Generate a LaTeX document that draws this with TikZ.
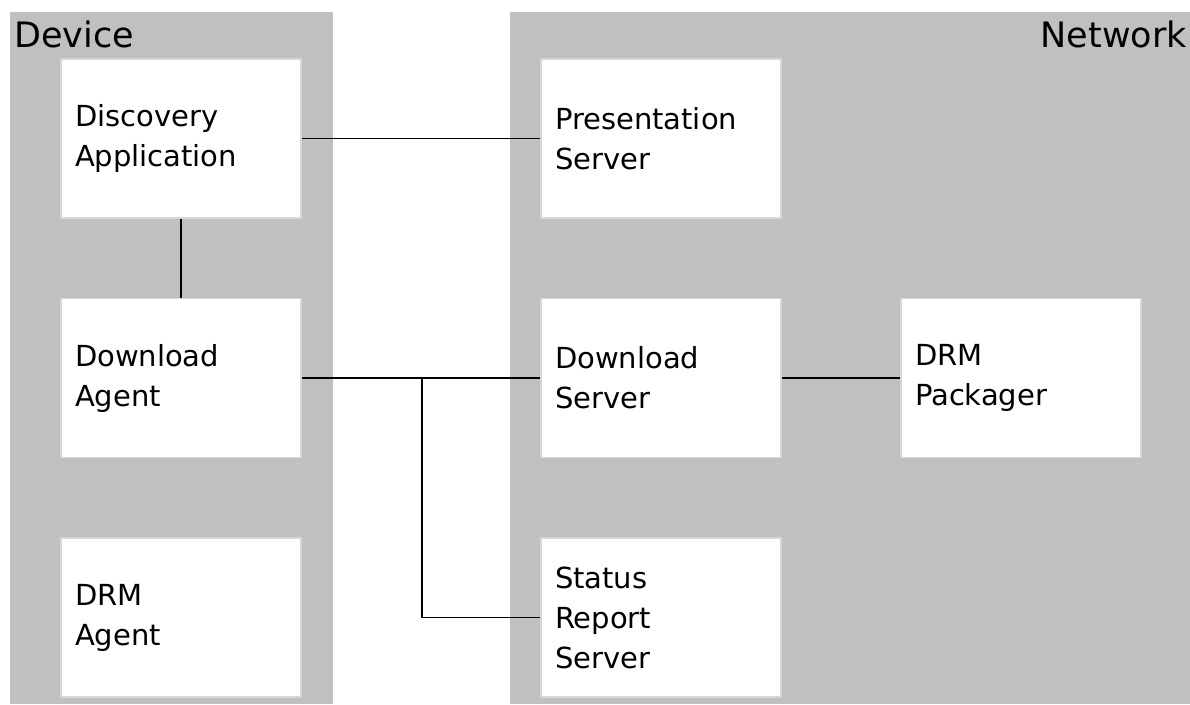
\documentclass[tikz,border=0pt]{standalone}
\usepackage{fontspec}
\setmainfont{DejaVu Sans}
\usepackage{tikz}
\usetikzlibrary{positioning}

\definecolor{panelgray}{RGB}{192,192,192}
\definecolor{edgegray}{RGB}{215,215,215}

\begin{document}
\begin{tikzpicture}[
    x=1pt, y=-1pt,
    panel/.style={fill=panelgray, draw=none},
    comp/.style={rectangle, draw=edgegray, line width=1.5pt, fill=white, minimum width=240pt, minimum height=159pt, text width=212pt, align=left, inner xsep=14pt, font=\fontsize{29}{40}\selectfont},
    title/.style={inner sep=0pt, font=\fontsize{35}{40}\selectfont},
    link/.style={draw=black, line width=1.5pt}
]
\useasboundingbox (0,0) rectangle (1190,704);

% Panels
\fill[panel] (10,12) rectangle (333,704);
\fill[panel] (510,12) rectangle (1190,704);
\node[title, anchor=base west] (devtitle) at (14,47) {Device};
\node[title, anchor=base east] (nettitle) at (1187,47) {Network};

% Device side
\node[comp] (disc) at (181,138.5) {Discovery\\Application};
\node[comp] (dlagent) at (181,378) {Download\\Agent};
\node[comp] (drmagent) at (181,617.5) {DRM\\Agent};

% Network side
\node[comp] (pres) at (661,138.5) {Presentation\\Server};
\node[comp] (dlserver) at (661,378) {Download\\Server};
\node[comp] (status) at (661,617.5) {Status\\Report\\Server};
\node[comp] (pack) at (1021,378) {DRM\\Packager};

% Links
\draw[link] (disc) -- (pres);
\draw[link] (disc) -- (dlagent);
\draw[link] (dlagent) -- (dlserver);
\draw[link] (dlserver) -- (pack);
\coordinate (tap) at (422,378);
\draw[link] (tap) |- (status.west);

\end{tikzpicture}
\end{document}
